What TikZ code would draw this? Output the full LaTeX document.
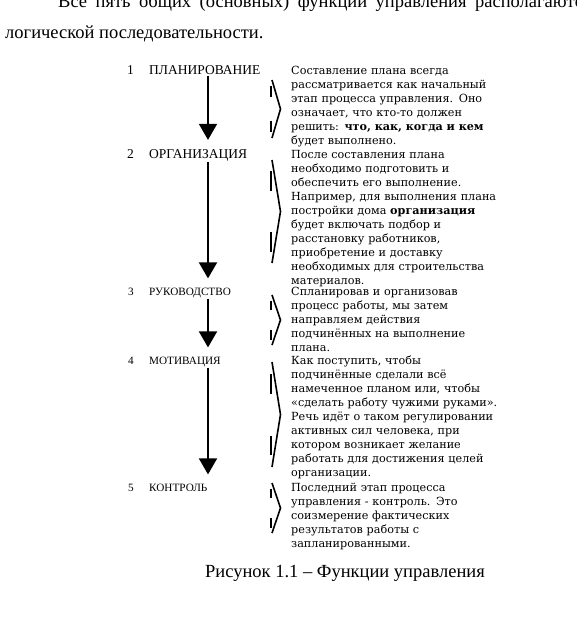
\documentclass[tikz,border=0pt]{standalone}
\usepackage{fontspec}
\setmainfont{Liberation Serif}
\newfontfamily\descfont{DejaVu Serif}
\usetikzlibrary{positioning,arrows.meta}

\tikzset{
	pagetext/.style={inner sep=0pt, anchor=base west, font=\fontsize{18.5}{22}\selectfont},
	stage/.style={inner sep=0pt, anchor=base west, font=\fontsize{13.5}{16}\selectfont},
	stagesmall/.style={stage, font=\fontsize{11.2}{13}\selectfont},
	desc/.style={inner sep=0pt, anchor=base west, text width=260pt, align=left,
		font=\descfont\fontsize{11.2}{14}\selectfont},
	flow/.style={line width=2pt, -{Triangle[width=18pt,length=16pt]}, shorten <=1pt, shorten >=9pt},
	brace/.style={line width=1.6pt, line join=miter},
	bracetick/.style={line width=1.2pt},
}

\begin{document}
\begin{tikzpicture}[x=1pt,y=-1pt]
	\useasboundingbox (0,0) rectangle (576,621);
	
	% text of the page round the figure
	\node[pagetext] (para1) at (58,8) {\spaceskip=8.5pt\relax Все пять общих (основных) функций управления располагаются в};
	\node[pagetext] (para2) at (5,38.5) {логической последовательности.};
	
	\coordinate (ax) at (208,0);
	\coordinate (dx) at (291,0);
	
	% the five functions
	\node[stage] (s1) at (149,74.5) {ПЛАНИРОВАНИЕ};
	\node[stage] (s2) at (149,158) {ОРГАНИЗАЦИЯ};
	\node[stagesmall] (s3) at (149,295) {РУКОВОДСТВО};
	\node[stagesmall] (s4) at (149,364) {МОТИВАЦИЯ};
	\node[stagesmall] (s5) at (149,491) {КОНТРОЛЬ};
	
	\foreach \i/\st in {1/stage,2/stage,3/stagesmall,4/stagesmall,5/stagesmall}
	\node[\st, base left=15pt of s\i] (n\i) {\i};
	
	\foreach \a/\b in {1/2,2/3,3/4,4/5}
	\draw[flow] (s\a.south -| ax) -- (s\b.north -| ax);
	
	% descriptions
	\node[desc] (d1) at (s1.base -| dx) {Составление плана всегда\\
		рассматривается как начальный\\
		этап процесса управления. Оно\\
		означает, что кто-то должен\\
		решить: \textbf{что, как, когда и кем}\\
		будет выполнено.};
	\node[desc] (d2) at (s2.base -| dx) {После составления плана\\
		необходимо подготовить и\\
		обеспечить его выполнение.\\
		Например, для выполнения плана\\
		постройки дома \textbf{организация}\\
		будет включать подбор и\\
		расстановку работников,\\
		приобретение и доставку\\
		необходимых для строительства\\
		материалов.};
	\node[desc] (d3) at (s3.base -| dx) {Спланировав и организовав\\
		процесс работы, мы затем\\
		направляем действия\\
		подчинённых на выполнение\\
		плана.};
	\node[desc] (d4) at (s4.base -| dx) {Как поступить, чтобы\\
		подчинённые сделали всё\\
		намеченное планом или, чтобы\\
		«сделать работу чужими руками».\\
		Речь идёт о таком регулировании\\
		активных сил человека, при\\
		котором возникает желание\\
		работать для достижения целей\\
		организации.};
	\node[desc] (d5) at (s5.base -| dx) {Последний этап процесса\\
		управления - контроль. Это\\
		соизмерение фактических\\
		результатов работы с\\
		запланированными.};
	
	% braces
	\foreach \t/\b in {80/138,160/263,295/345,362/467,483/533}{
		\draw[brace] (272,\t) -- (280.5,{(\t+\b)/2}) -- (272,\b);
		\draw[bracetick] (271,{\t+0.11*(\b-\t)}) -- (271,{\t+0.3*(\b-\t)});
		\draw[bracetick] (271,{\b-0.3*(\b-\t)}) -- (271,{\b-0.11*(\b-\t)});
	}
	
	\node[pagetext, anchor=base] (cap) at (345,577) {Рисунок 1.1 – Функции управления};
\end{tikzpicture}
\end{document}
